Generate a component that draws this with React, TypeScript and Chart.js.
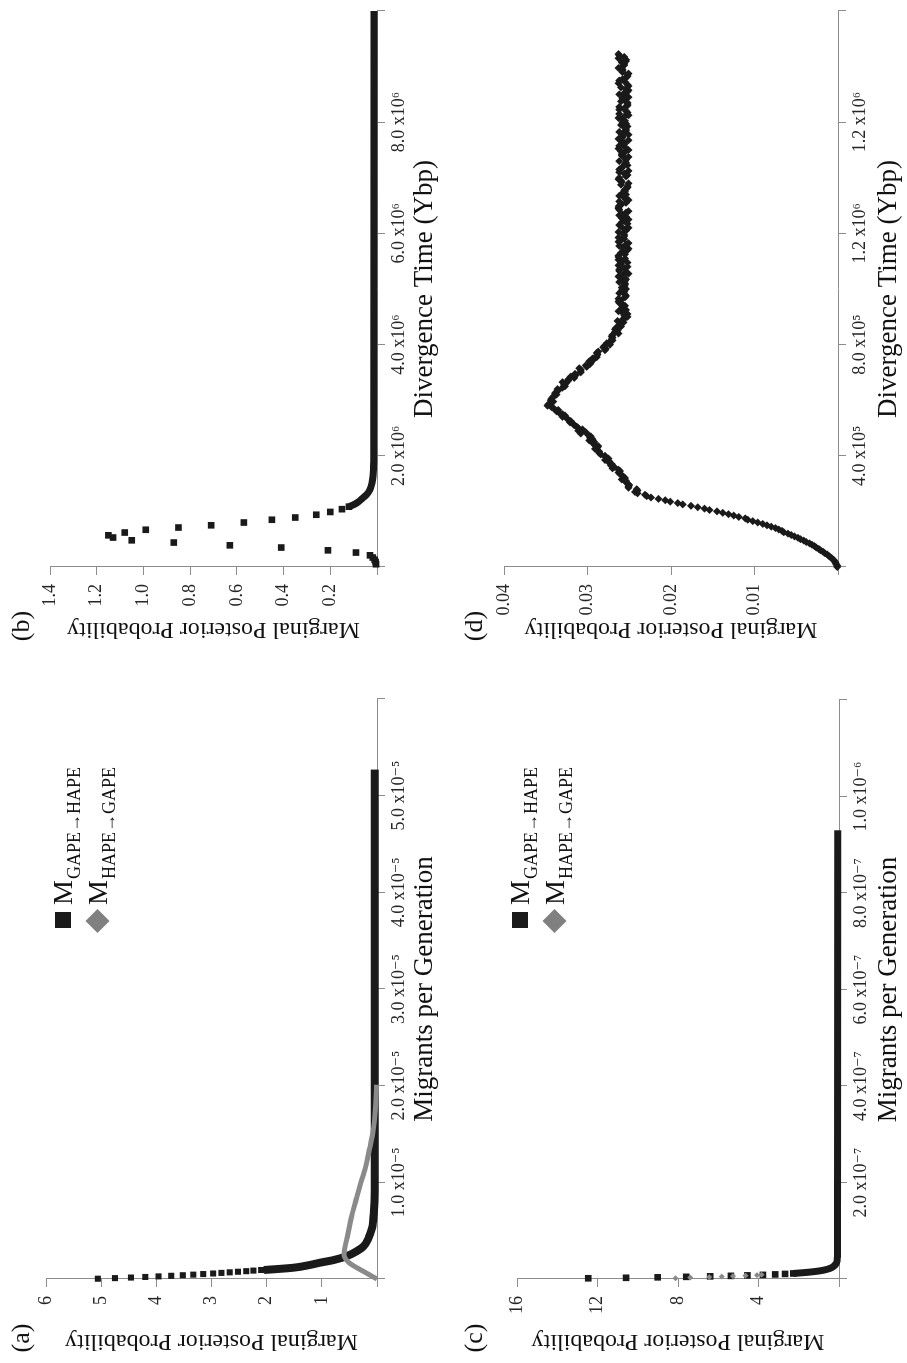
import React, { useEffect, useRef } from 'react';
import { Chart, registerables } from 'chart.js';

Chart.register(...registerables);

const FONT = '"Liberation Serif", "Times New Roman", "DejaVu Serif", serif';
Chart.defaults.font.family = FONT;

const AXIS_GREY = '#8c8c8c';
const INK = '#1a1a1a';
const SERIES_GREY = '#8a8a8a';
const LEGEND_GREY = '#808080';

const Y_TITLE = 'Marginal Posterior Probability';
const MIG_TITLE = 'Migrants per Generation';
const DIV_TITLE = 'Divergence Time (Ybp)';
const LEGEND_MAIN = 'M';
const LEGEND_SUBS = ['GAPE\u2192HAPE', 'HAPE\u2192GAPE'];

// ---------------- panel (a): migration rates, wide prior ----------------
const A_X_LABELS = ['', '1.0 x10\u207B\u2075', '2.0 x10\u207B\u2075', '3.0 x10\u207B\u2075', '4.0 x10\u207B\u2075', '5.0 x10\u207B\u2075', ''];
const A_Y_LABELS = ['', '1', '2', '3', '4', '5', '6'];
const A_GH_SQ_X = [0.03e-6, 0.09e-6, 0.15e-6, 0.21e-6, 0.27e-6, 0.33e-6, 0.39e-6, 0.45e-6, 0.51e-6, 0.57e-6, 0.63e-6, 0.69e-6, 0.75e-6, 0.81e-6, 0.87e-6, 0.93e-6];
const A_GH_SQ_Y = [5.06, 4.75, 4.46, 4.2, 3.96, 3.73, 3.52, 3.33, 3.15, 2.97, 2.82, 2.67, 2.52, 2.37, 2.24, 2.1];
const A_GH_LINE_X = [0.93e-6, 1.17e-6, 1.45e-6, 1.69e-6, 1.96e-6, 2.38e-6, 2.9e-6, 3.4e-6, 4.27e-6, 5.3e-6, 6.7e-6, 9.1e-6, 52.7e-6];
const A_GH_LINE_Y = [2.05, 1.51, 1.22, 1.03, 0.785, 0.54, 0.36, 0.24, 0.15, 0.09, 0.06, 0.04, 0.04];
const A_HG_X = [0, 0.8e-6, 1.7e-6, 2.55e-6, 4.3e-6, 6.7e-6, 8.4e-6, 9.8e-6, 11.5e-6, 13.6e-6, 15.3e-6, 17.4e-6, 20.1e-6];
const A_HG_Y = [0.0, 0.25, 0.51, 0.6, 0.54, 0.45, 0.37, 0.3, 0.21, 0.13, 0.07, 0.03, 0.01];

// ---------------- panel (b): divergence time, wide prior ----------------
const B_X_LABELS = ['', '2.0 x10\u2076', '4.0 x10\u2076', '6.0 x10\u2076', '8.0 x10\u2076', ''];
const B_Y_LABELS = ['', '0.2', '0.4', '0.6', '0.8', '1.0', '1.2', '1.4'];
const B_SQ_X = [0.05e6, 0.09e6, 0.13e6, 0.17e6, 0.21e6, 0.26e6, 0.3e6, 0.35e6, 0.39e6, 0.44e6, 0.48e6, 0.53e6, 0.57e6, 0.62e6, 0.67e6, 0.71e6, 0.75e6, 0.8e6, 0.85e6, 0.89e6, 0.94e6, 0.99e6, 1.04e6, 1.085e6];
const B_SQ_Y = [0.004, 0.006, 0.01, 0.018, 0.03, 0.09, 0.21, 0.41, 0.63, 0.87, 1.05, 1.13, 1.15, 1.08, 0.99, 0.85, 0.71, 0.57, 0.45, 0.35, 0.26, 0.2, 0.15, 0.12];
const B_LINE_X = [1.085e6, 1.12e6, 1.17e6, 1.24e6, 1.3e6, 1.39e6, 1.5e6, 1.63e6, 1.8e6, 2.0e6, 10.0e6];
const B_LINE_Y = [0.12, 0.1, 0.08, 0.061, 0.045, 0.03, 0.022, 0.017, 0.015, 0.014, 0.013];

// ---------------- panel (c): migration rates, narrow prior ----------------
const C_X_LABELS = ['', '2.0 x10\u207B\u2077', '4.0 x10\u207B\u2077', '6.0 x10\u207B\u2077', '8.0 x10\u207B\u2077', '1.0 x10\u207B\u2076', ''];
const C_Y_LABELS = ['', '4', '8', '12', '16'];
const C_GH_SQ_X = [1.5e-9, 2.5e-9, 3.5e-9, 4.5e-9, 5.5e-9, 6.5e-9, 7.5e-9, 8.5e-9, 9.5e-9, 10.5e-9, 11.5e-9];
const C_GH_SQ_Y = [12.46, 10.58, 9.01, 7.59, 6.4, 5.37, 4.55, 3.78, 3.17, 2.68, 2.27];
const C_GH_LINE_X = [11.5e-9, 13e-9, 15e-9, 18e-9, 22e-9, 27e-9, 33e-9, 45e-9, 80e-9, 930e-9];
const C_GH_LINE_Y = [2.27, 1.8, 1.3, 0.8, 0.45, 0.25, 0.13, 0.08, 0.07, 0.06];
const C_HG_X = [1.5e-9, 3.0e-9, 4.0e-9, 5.0e-9, 6.0e-9, 7.0e-9, 8.0e-9, 9.0e-9];
const C_HG_Y = [8.13, 7.39, 6.45, 5.82, 5.27, 4.65, 4.08, 3.85];

// ---------------- panel (d): divergence time, narrow prior ----------------
const D_X_LABELS = ['', '4.0 x10\u2075', '8.0 x10\u2075', '1.2 x10\u2076', '1.2 x10\u2076', ''];
const D_Y_LABELS = ['', '0.01', '0.02', '0.03', '0.04'];
const D_BIN_WIDTH = 5e3; // years per bin, first bin at 0
const D_PROB = [
  // 0 - 0.245 x10^6
  0.0001, 0.0001, 0.0002, 0.0003, 0.0004, 0.0005, 0.0007, 0.0009, 0.0011, 0.0013,
  0.0016, 0.0018, 0.0021, 0.0023, 0.0026, 0.0028, 0.0031, 0.0034, 0.0038, 0.0041,
  0.0045, 0.0048, 0.0052, 0.0056, 0.006, 0.0065, 0.0067, 0.0071, 0.0075, 0.008,
  0.0085, 0.009, 0.0096, 0.0102, 0.0108, 0.0111, 0.0119, 0.0125, 0.0131, 0.0138,
  0.0145, 0.0154, 0.016, 0.0168, 0.0176, 0.0186, 0.0192, 0.0201, 0.0207, 0.0215,
  // 0.25 - 0.895 x10^6
  0.0224, 0.0229, 0.0231, 0.024, 0.0243, 0.024, 0.0241, 0.0251, 0.0251, 0.025,
  0.0252, 0.0254, 0.0254, 0.0259, 0.0255, 0.0257, 0.0259, 0.0261, 0.0263, 0.0261,
  0.0263, 0.027, 0.0268, 0.0272, 0.0271, 0.0274, 0.0274, 0.0279, 0.0275, 0.0278,
  0.0279, 0.0284, 0.0286, 0.0286, 0.0288, 0.0291, 0.0288, 0.0287, 0.0292, 0.0293,
  0.0292, 0.0298, 0.0294, 0.0297, 0.0296, 0.0299, 0.0308, 0.0302, 0.0311, 0.0306,
  0.0311, 0.0313, 0.0316, 0.0317, 0.0321, 0.032, 0.0323, 0.0325, 0.033, 0.0327,
  0.033, 0.0334, 0.0337, 0.0335, 0.034, 0.0343, 0.0348, 0.0347, 0.0343, 0.0341,
  0.0344, 0.0343, 0.0342, 0.034, 0.0337, 0.0339, 0.0337, 0.0335, 0.0336, 0.033,
  0.0327, 0.0328, 0.0326, 0.033, 0.0323, 0.0323, 0.0316, 0.032, 0.0314, 0.0315,
  0.0308, 0.0308, 0.0308, 0.031, 0.0301, 0.0302, 0.0297, 0.0296, 0.0298, 0.0293,
  0.0294, 0.0289, 0.0289, 0.0288, 0.0289, 0.0287, 0.0279, 0.0278, 0.0281, 0.028,
  0.0273, 0.0277, 0.0273, 0.027, 0.0271, 0.027, 0.0271, 0.027, 0.0263, 0.0267,
  0.0264, 0.0267, 0.0266, 0.026, 0.0262, 0.026, 0.0257, 0.0264, 0.0258, 0.0255,
  // 0.90 - 1.845 x10^6
  0.0252, 0.0256, 0.0252, 0.0258, 0.0263, 0.0254, 0.0259, 0.0258, 0.0255, 0.0258,
  0.0262, 0.0263, 0.026, 0.0263, 0.0255, 0.0254, 0.0255, 0.0262, 0.0256, 0.0259,
  0.0254, 0.0259, 0.0256, 0.0255, 0.0255, 0.0262, 0.0255, 0.0254, 0.026, 0.0263,
  0.0258, 0.0251, 0.0254, 0.0262, 0.0262, 0.0256, 0.0252, 0.0263, 0.026, 0.0252,
  0.0259, 0.0263, 0.0255, 0.0263, 0.0263, 0.0255, 0.026, 0.0258, 0.0252, 0.0251,
  0.0258, 0.0262, 0.0254, 0.0251, 0.0263, 0.026, 0.0256, 0.0263, 0.0256, 0.0256,
  0.0258, 0.0263, 0.0254, 0.0255, 0.0251, 0.026, 0.0262, 0.0252, 0.0259, 0.0256,
  0.0251, 0.0259, 0.0254, 0.0262, 0.0259, 0.0254, 0.0251, 0.0262, 0.0263, 0.0263,
  0.0262, 0.0259, 0.0254, 0.0262, 0.0251, 0.0255, 0.0256, 0.0262, 0.0254, 0.0258,
  0.0255, 0.0256, 0.0254, 0.0252, 0.0252, 0.026, 0.0251, 0.0259, 0.026, 0.0263,
  0.0262, 0.0254, 0.0252, 0.0256, 0.0262, 0.0251, 0.0262, 0.0259, 0.0258, 0.0252,
  0.0255, 0.0254, 0.0262, 0.0254, 0.0255, 0.0251, 0.0259, 0.0259, 0.0256, 0.026,
  0.0251, 0.0263, 0.0255, 0.0262, 0.0256, 0.0256, 0.0259, 0.0251, 0.0263, 0.0258,
  0.0258, 0.0251, 0.0258, 0.0262, 0.0254, 0.0254, 0.0255, 0.0252, 0.026, 0.0254,
  0.0258, 0.0255, 0.0258, 0.0263, 0.0256, 0.0251, 0.0262, 0.0252, 0.0254, 0.0262,
  0.0256, 0.0262, 0.0252, 0.0252, 0.0252, 0.026, 0.0256, 0.0258, 0.0251, 0.0254,
  0.0262, 0.0256, 0.0252, 0.0251, 0.0254, 0.026, 0.0251, 0.0252, 0.0263, 0.0255,
  0.0262, 0.0258, 0.0254, 0.0252, 0.0252, 0.0251, 0.0258, 0.0258, 0.0258, 0.0263,
  0.0259, 0.0256, 0.0256, 0.0259, 0.0254, 0.0254, 0.0263, 0.0256, 0.0262, 0.0263,
];

// ---------------- helpers ----------------
const pts = (xs: number[], ys: number[]) => xs.map((x, i) => ({ x, y: ys[i] }));

const markers = (xs: number[], ys: number[], style: string, r: number, color: string, order: number) => ({
  data: pts(xs, ys),
  showLine: false,
  pointStyle: style,
  pointRadius: r,
  pointBackgroundColor: color,
  pointBorderWidth: 0,
  order,
  clip: false,
});

const band = (xs: number[], ys: number[], w: number, color: string, order: number) => ({
  data: pts(xs, ys),
  showLine: true,
  borderColor: color,
  borderWidth: w,
  pointRadius: 0,
  cubicInterpolationMode: 'monotone',
  fill: false,
  order,
  clip: false,
});

type Spec = {
  label: string;
  left: number;
  top: number;
  width: number;
  height: number;
  padTop: number;
  padRight: number;
  xAxisH: number;
  xTitlePad: number;
  xMax: number;
  xStep: number;
  xLabels: string[];
  xTitle: string;
  yMax: number;
  yStep: number;
  yLabels: string[];
  datasets: any[];
  legendY?: number;
};

const SPECS: Spec[] = [
  {
    label: '(a)', left: 0, top: 0, width: 712, height: 453,
    padTop: 46, padRight: 48, xAxisH: 76, xTitlePad: 12,
    xMax: 6e-5, xStep: 1e-5, xLabels: A_X_LABELS, xTitle: MIG_TITLE,
    yMax: 6, yStep: 1, yLabels: A_Y_LABELS,
    datasets: [
      band(A_HG_X, A_HG_Y, 5, SERIES_GREY, 0),
      band(A_GH_LINE_X, A_GH_LINE_Y, 8, INK, 1),
      markers(A_GH_SQ_X, A_GH_SQ_Y, 'rect', 4.3, INK, 2),
    ],
    legendY: 63,
  },
  {
    label: '(b)', left: 712, top: 0, width: 651, height: 453,
    padTop: 50, padRight: 11, xAxisH: 76, xTitlePad: 12,
    xMax: 1e7, xStep: 2e6, xLabels: B_X_LABELS, xTitle: DIV_TITLE,
    yMax: 1.4, yStep: 0.2, yLabels: B_Y_LABELS,
    datasets: [
      band(B_LINE_X, B_LINE_Y, 7, INK, 0),
      markers(B_SQ_X, B_SQ_Y, 'rect', 4.7, INK, 1),
    ],
  },
  {
    label: '(c)', left: 0, top: 453, width: 712, height: 454,
    padTop: 64, padRight: 49, xAxisH: 68, xTitlePad: 2,
    xMax: 1.2e-6, xStep: 2e-7, xLabels: C_X_LABELS, xTitle: MIG_TITLE,
    yMax: 16, yStep: 4, yLabels: C_Y_LABELS,
    datasets: [
      markers(C_HG_X, C_HG_Y, 'rectRot', 3, SERIES_GREY, 0),
      band(C_GH_LINE_X, C_GH_LINE_Y, 7, INK, 1),
      markers(C_GH_SQ_X, C_GH_SQ_Y, 'rect', 4.7, INK, 2),
    ],
    legendY: 67,
  },
  {
    label: '(d)', left: 712, top: 453, width: 651, height: 454,
    padTop: 51, padRight: 11, xAxisH: 69, xTitlePad: 2,
    xMax: 2e6, xStep: 4e5, xLabels: D_X_LABELS, xTitle: DIV_TITLE,
    yMax: 0.04, yStep: 0.01, yLabels: D_Y_LABELS,
    datasets: [markers(D_PROB.map((_, i) => i * D_BIN_WIDTH), D_PROB, 'rectRot', 4, INK, 0)],
  },
];

function decorPlugin(spec: Spec) {
  return {
    id: 'decor',
    afterDraw(chart: any) {
      const ctx = chart.ctx as CanvasRenderingContext2D;
      ctx.save();
      ctx.fillStyle = '#111';
      ctx.font = `26px ${FONT}`;
      ctx.textAlign = 'center';
      ctx.textBaseline = 'middle';
      ctx.fillText(spec.label, 25, 22);
      if (spec.legendY !== undefined) {
        const y0 = spec.legendY;
        const rowGap = 34.5;
        const mx = 443;
        ctx.fillStyle = INK;
        ctx.fillRect(mx - 8, y0 - 8, 16, 16);
        const y1 = y0 + rowGap;
        ctx.fillStyle = LEGEND_GREY;
        ctx.beginPath();
        ctx.moveTo(mx - 1, y1 - 12);
        ctx.lineTo(mx + 11, y1);
        ctx.lineTo(mx - 1, y1 + 12);
        ctx.lineTo(mx - 13, y1);
        ctx.closePath();
        ctx.fill();
        ctx.fillStyle = '#111';
        ctx.textAlign = 'left';
        ctx.textBaseline = 'alphabetic';
        [y0, y1].forEach((yy, i) => {
          ctx.font = `28px ${FONT}`;
          ctx.fillText(LEGEND_MAIN, 458, yy + 9);
          const w = ctx.measureText(LEGEND_MAIN).width;
          ctx.font = `18px ${FONT}`;
          ctx.fillText(LEGEND_SUBS[i], 458 + w + 1, yy + 17);
        });
      }
      ctx.restore();
    },
  };
}

function buildConfig(spec: Spec): any {
  const tickFont = { family: FONT, size: 18 };
  const gridOpts = { drawOnChartArea: false, drawTicks: true, tickLength: 8, color: AXIS_GREY, lineWidth: 1 };
  const borderOpts = { display: true, color: AXIS_GREY, width: 1 };
  return {
    type: 'scatter',
    data: { datasets: spec.datasets },
    options: {
      responsive: false,
      animation: false,
      events: [],
      devicePixelRatio: 1,
      layout: { padding: { left: 0, top: spec.padTop, right: spec.padRight, bottom: 0 } },
      plugins: { legend: { display: false }, tooltip: { enabled: false } },
      scales: {
        x: {
          type: 'linear',
          position: 'bottom',
          min: 0,
          max: spec.xMax,
          afterFit: (s: any) => {
            s.height = spec.xAxisH;
          },
          ticks: {
            stepSize: spec.xStep,
            autoSkip: false,
            maxRotation: 0,
            minRotation: 0,
            padding: 3,
            color: '#262626',
            font: tickFont,
            callback: (_v: any, i: number) => spec.xLabels[i] ?? '',
          },
          grid: gridOpts,
          border: borderOpts,
          title: {
            display: true,
            text: spec.xTitle,
            color: '#111',
            font: { family: FONT, size: 27 },
            padding: { top: 0, bottom: spec.xTitlePad },
          },
        },
        y: {
          type: 'linear',
          position: 'left',
          min: 0,
          max: spec.yMax,
          afterFit: (s: any) => {
            s.width = 84;
          },
          ticks: {
            stepSize: spec.yStep,
            autoSkip: false,
            padding: 9,
            color: '#262626',
            font: tickFont,
            callback: (_v: any, i: number) => spec.yLabels[i] ?? '',
          },
          grid: gridOpts,
          border: borderOpts,
          title: {
            display: true,
            text: Y_TITLE,
            color: '#111',
            font: { family: FONT, size: 24 },
            padding: { top: 7.6, bottom: 0 },
          },
        },
      },
    },
    plugins: [decorPlugin(spec)],
  };
}

function Panel({ spec }: { spec: Spec }) {
  const ref = useRef<HTMLCanvasElement | null>(null);
  useEffect(() => {
    if (!ref.current) return;
    const chart = new Chart(ref.current, buildConfig(spec));
    return () => chart.destroy();
  }, [spec]);
  return (
    <canvas
      ref={ref}
      width={spec.width}
      height={spec.height}
      style={{ position: 'absolute', left: spec.left, top: spec.top, width: spec.width, height: spec.height }}
    />
  );
}

export default function App() {
  return (
    <div style={{ position: 'absolute', left: 0, top: 0, width: 907, height: 1363, overflow: 'hidden', background: '#fff' }}>
      <div
        style={{
          position: 'absolute',
          left: 0,
          top: 0,
          width: 1363,
          height: 907,
          transformOrigin: '0 0',
          transform: 'translate(0px, 1363px) rotate(-90deg)',
          background: '#fff',
        }}
      >
        {SPECS.map((s) => (
          <Panel key={s.label} spec={s} />
        ))}
      </div>
    </div>
  );
}
